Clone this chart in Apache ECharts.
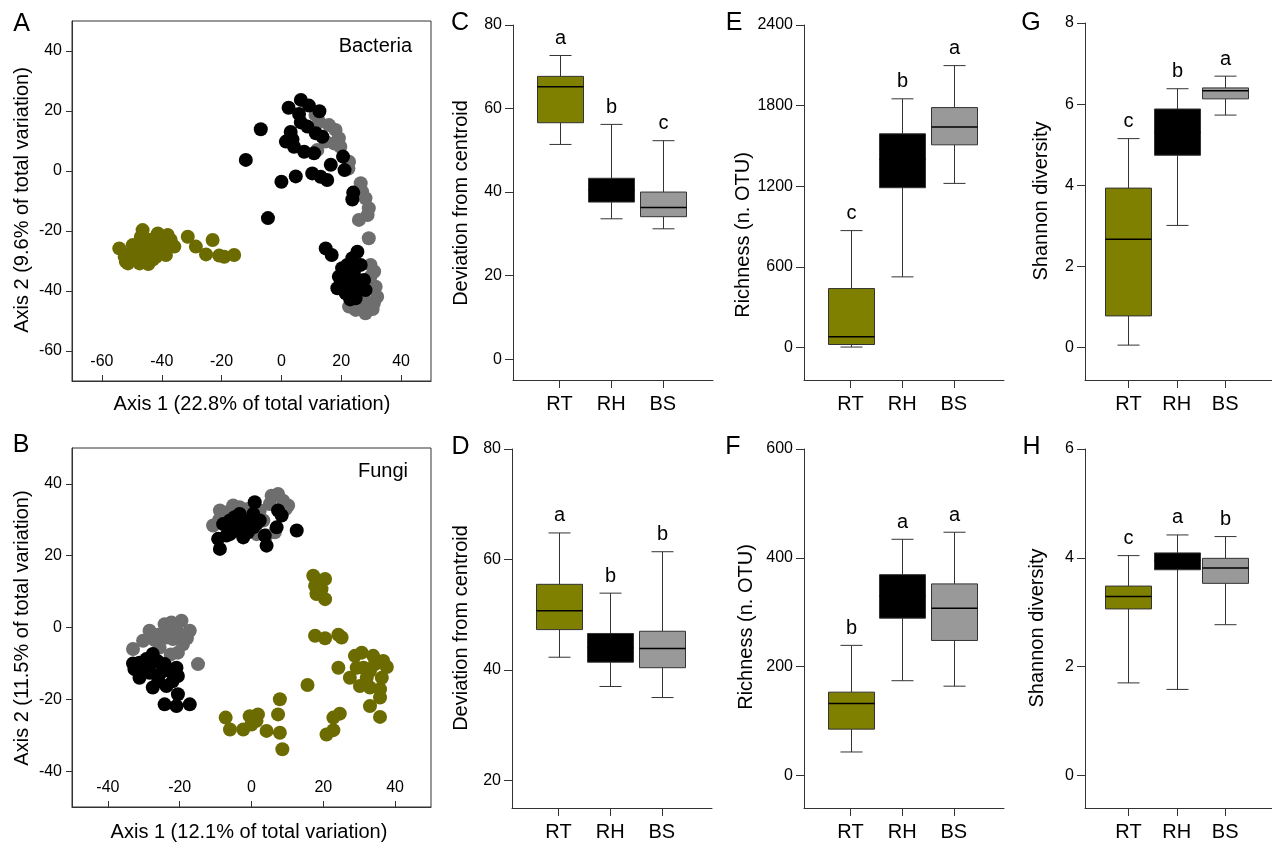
<!DOCTYPE html>
<html>
<head>
<meta charset="utf-8">
<script src="https://cdn.jsdelivr.net/npm/echarts@6.0.0/dist/echarts.min.js"></script>
<style>
html,body{margin:0;padding:0;background:#fff;}
#chart{width:1272px;height:844px;}
</style>
</head>
<body>
<div id="chart"></div>
<script>
// ---------------- DATA ----------------
const groups = ['RT', 'RH', 'BS'];

// Panel A – Bacteria PCoA (Axis 1, Axis 2)
const bacRT = [[-54.2,-25.8],[-52.0,-30.2],[-51.3,-30.8],[-49.7,-28.6],[-49.7,-24.7],[-48.6,-26.3],[-47.4,-25.2],[-47.4,-30.8],[-46.4,-19.7],[-46.3,-23.0],[-46.3,-27.4],[-45.2,-29.7],[-44.1,-23.0],[-43.6,-25.8],[-43.3,-27.4],[-41.9,-21.9],[-41.3,-20.8],[-41.9,-28.6],[-40.8,-25.2],[-38.6,-24.1],[-38.0,-21.3],[-38.6,-28.0],[-35.8,-25.2],[-31.3,-21.9],[-28.6,-25.2],[-25.2,-27.8],[-23.0,-23.0],[-20.8,-28.2],[-19.1,-28.6],[-15.8,-28.0],[-52.4,-28.6],[-44.5,-31.0],[-48.0,-28.0],[-45.0,-26.5],[-42.5,-24.0],[-40.0,-23.0],[-50.5,-27.5],[-47.0,-22.0],[-43.0,-29.5],[-39.5,-26.5],[-37.0,-23.0]];
const bacRH = [[-11.9,3.7],[-6.9,13.9],[-4.5,-15.7],[0.0,-3.6],[4.8,-1.8],[2.4,21.1],[6.5,23.7],[9.2,21.8],[12.7,19.9],[3.1,13.0],[1.5,9.8],[4.2,8.1],[7.6,6.4],[10.9,5.9],[6.5,16.2],[8.7,14.8],[11.5,12.6],[13.7,11.4],[5.9,19.0],[3.7,10.5],[10.3,-0.8],[13.1,-1.9],[15.3,-3.0],[16.5,2.1],[20.6,4.8],[21.1,0.3],[24.0,-7.2],[23.7,-9.5],[14.8,-25.8],[16.8,-28.0],[25.4,-26.9],[23.7,-29.1],[20.3,-32.4],[19.2,-35.2],[18.7,-39.1],[21.5,-40.8],[24.8,-42.4],[28.1,-39.7],[27.6,-36.3],[24.2,-34.1],[22.6,-37.4],[25.4,-37.4],[22.0,-31.3],[26.5,-31.3],[23.0,-42.8],[20.5,-38.0],[21.0,-36.0],[23.5,-39.0],[26.5,-39.0],[19.8,-37.5]];
const bacBS = [[12.6,16.4],[15.9,15.3],[18.1,13.7],[19.2,10.9],[17.6,9.2],[14.8,9.8],[11.4,18.7],[22.6,3.1],[22.4,0.8],[26.5,-4.1],[27.0,-6.9],[28.1,-9.1],[29.2,-12.4],[28.8,-14.7],[25.9,-16.3],[29.2,-22.4],[29.8,-31.3],[31.5,-38.6],[30.9,-44.1],[28.1,-47.4],[24.8,-46.3],[22.6,-45.2],[32.0,-41.9],[29.8,-35.2],[26.5,-44.5],[30.5,-46.0],[12.0,7.0],[19.7,8.1],[27.5,-42.5],[31.0,-33.5]];

// Panel B – Fungi PCoA
const funRT = [[17.2,14.4],[20.5,13.5],[17.7,11.6],[18.1,9.3],[20.5,7.9],[19.5,10.7],[17.7,-2.3],[20.5,-3.0],[24.2,-2.0],[25.1,-2.8],[24.2,-11.2],[15.6,-16.0],[28.8,-7.9],[30.7,-7.0],[33.9,-7.9],[36.7,-9.3],[37.7,-11.0],[27.4,-14.0],[30.2,-16.3],[33.0,-16.7],[35.8,-17.2],[36.3,-14.0],[35.8,-19.5],[33.0,-21.9],[35.8,-24.9],[31.2,-11.2],[33.0,-12.1],[29.3,-11.2],[32.1,-14.0],[34.4,-10.2],[24.6,-24.0],[22.8,-25.1],[22.8,-28.6],[20.9,-29.8],[7.9,-20.0],[7.4,-24.2],[7.9,-29.3],[8.6,-33.9],[4.2,-28.8],[1.8,-24.2],[-0.5,-24.7],[0.0,-27.0],[-2.3,-28.4],[-6.0,-28.4],[-7.2,-25.1],[1.4,-26.0]];
const funRH = [[0.9,34.9],[-8.8,21.9],[-9.3,24.7],[-7.9,28.8],[-6.0,29.8],[-4.2,27.0],[-2.3,29.3],[-3.3,31.6],[-0.5,29.8],[0.5,27.9],[2.3,29.8],[3.7,25.6],[4.2,22.8],[-2.3,25.1],[-6.0,26.0],[7.4,32.6],[8.4,31.2],[7.0,27.9],[12.6,27.0],[-7.0,25.6],[0.5,31.6],[-4.7,30.7],[-5.0,28.0],[-1.0,26.5],[1.5,29.0],[-3.5,27.5],[-31.2,-9.8],[-32.6,-11.6],[-27.5,-7.4],[-24.2,-10.2],[-20.9,-11.2],[-20.5,-13.5],[-31.2,-14.0],[-27.5,-16.7],[-23.7,-16.3],[-20.5,-18.6],[-24.2,-21.4],[-20.9,-21.9],[-17.2,-21.4],[-28.4,-12.6],[-25.6,-13.0],[-29.3,-8.8],[-26.0,-9.5],[-23.0,-12.0],[-30.0,-11.5],[-28.0,-10.0],[-26.0,-15.0],[-22.0,-15.0],[-33.0,-10.0]];
const funBS = [[-10.7,28.4],[-8.8,32.6],[-5.1,34.0],[-3.3,33.5],[-0.9,33.0],[5.6,36.7],[7.4,37.2],[8.8,35.3],[10.2,34.0],[5.1,34.4],[2.3,32.6],[4.2,25.6],[1.4,26.0],[6.5,26.5],[3.3,29.8],[-7.5,30.5],[-9.0,30.0],[-6.0,32.5],[-1.5,31.5],[9.5,33.0],[-28.4,-0.9],[-24.2,0.9],[-22.3,1.4],[-19.5,1.9],[-17.2,-0.9],[-20.0,-1.9],[-21.9,-3.2],[-23.7,-2.8],[-30.2,-3.7],[-33.0,-6.0],[-14.9,-10.2],[-20.5,-7.0],[-25.6,-5.6],[-19.1,-4.7],[-27.0,-3.5],[-22.5,-7.5],[-26.0,-2.0],[-23.0,-0.5],[-18.0,-3.0],[-21.0,0.2]];

// Box statistics [min, Q1, median, Q3, max] for RT, RH, BS
const devBac  = [[51.4,56.6,65.2,67.7,72.7],[33.6,37.6,40.5,43.3,56.2],[31.2,34.1,36.3,40.0,52.3]];
const richBac = [[5,24,82,440,871],[527,1190,1400,1591,1851],[1222,1509,1641,1786,2098]];
const shanBac = [[0.06,0.78,2.67,3.93,5.15],[3.01,4.74,5.3,5.88,6.38],[5.73,6.13,6.33,6.40,6.69]];
const devFun  = [[42.3,47.3,50.7,55.5,64.8],[37.0,41.4,44.0,46.6,53.9],[35.0,40.4,43.9,47.0,61.4]];
const richFun = [[43,85,132,153,239],[174,289,330,369,434],[164,248,307,352,447]];
const shanFun = [[1.70,3.06,3.29,3.48,4.04],[1.58,3.78,3.95,4.09,4.42],[2.77,3.53,3.81,3.99,4.39]];

// Significance letters
const letDevBac  = ['a','b','c'];
const letRichBac = ['c','b','a'];
const letShanBac = ['c','b','a'];
const letDevFun  = ['a','b','b'];
const letRichFun = ['b','a','a'];
const letShanFun = ['c','a','b'];

// Tick labels
const ticksA = [-60,-40,-20,0,20,40];
const ticksB = [-40,-20,0,20,40];
const ticksDevBac = [0,20,40,60,80];
const ticksRichBac = [0,600,1200,1800,2400];
const ticksShanBac = [0,2,4,6,8];
const ticksDevFun = [20,40,60,80];
const ticksRichFun = [0,200,400,600];
const ticksShanFun = [0,2,4,6];
const catTicks = [1,2,3];

// ---------------- STYLE ----------------
const FF = 'Liberation Sans, Arial, Helvetica, sans-serif';
const AX = '#333';
const scatterCol = {RT:'#6b6b00', RH:'#000000', BS:'#6e6e6e'};
const boxCol = ['#808000', '#000000', '#999999'];
const plain = v => String(v);

const chart = echarts.init(document.getElementById('chart'), null, {renderer:'canvas'});

const grids = [
  {left:72, top:21, width:359, height:360, show:true, borderColor:AX, borderWidth:1},   // A
  {left:72, top:448, width:359, height:359, show:true, borderColor:AX, borderWidth:1},  // B
  {left:513, top:25, width:200, height:355},   // C
  {left:512, top:449, width:200, height:359},  // D
  {left:804, top:25, width:200, height:355},   // E
  {left:804, top:449, width:200, height:359},  // F
  {left:1085, top:23, width:200, height:357},  // G
  {left:1085, top:449, width:200, height:359}  // H
];

function scatterX(gi, min, max, ticks){
  return {gridIndex:gi, type:'value', min, max,
    axisLine:{show:true, onZero:false, lineStyle:{color:AX, width:1}},
    axisTick:{show:true, inside:true, length:6, customValues:ticks, lineStyle:{color:AX}},
    axisLabel:{inside:true, margin:11, customValues:ticks, fontSize:16, color:'#000', fontFamily:FF, formatter:plain},
    splitLine:{show:false}};
}
function scatterY(gi, min, max, ticks){
  return {gridIndex:gi, type:'value', min, max,
    axisLine:{show:true, onZero:false, lineStyle:{color:AX, width:1}},
    axisTick:{show:true, inside:false, length:6, customValues:ticks, lineStyle:{color:AX}},
    axisLabel:{margin:10, customValues:ticks, fontSize:16, color:'#000', fontFamily:FF, formatter:plain},
    splitLine:{show:false}};
}
function boxX(gi){
  return {gridIndex:gi, type:'value', min:0.1, max:3.97,
    axisLine:{show:true, onZero:false, lineStyle:{color:AX, width:1}},
    axisTick:{show:true, length:8, customValues:catTicks, lineStyle:{color:AX}},
    axisLabel:{margin:14, customValues:catTicks, fontSize:20, color:'#000', fontFamily:FF,
      formatter:v=>groups[Math.round(v)-1]},
    splitLine:{show:false}};
}
function boxY(gi, min, max, ticks){
  return {gridIndex:gi, type:'value', min, max,
    axisLine:{show:true, onZero:false, lineStyle:{color:AX, width:1}},
    axisTick:{show:true, length:8, customValues:ticks, lineStyle:{color:AX}},
    axisLabel:{margin:11, customValues:ticks, fontSize:16, color:'#000', fontFamily:FF, formatter:plain},
    splitLine:{show:false}};
}

function scatterSeries(gi, data, color, name){
  return {type:'scatter', name, xAxisIndex:gi, yAxisIndex:gi, data,
    symbol:'circle', symbolSize:14, itemStyle:{color, opacity:1}, silent:true};
}

function boxSeries(gi, stats, letters){
  return {
    type:'custom', xAxisIndex:gi, yAxisIndex:gi,
    data: stats.map((s,i)=>[i+1].concat(s)),
    encode:{x:0, y:[1,2,3,4,5]},
    silent:true,
    renderItem:(params, api)=>{
      const x = api.value(0);
      const c = k => api.coord([x, api.value(k)]);
      const pMin=c(1), pQ1=c(2), pMed=c(3), pQ3=c(4), pMax=c(5);
      const cx = Math.round(pMin[0]) + 0.5;
      const hw = 23, hc = 11;
      const ls = {stroke:'#333', lineWidth:1};
      return {type:'group', children:[
        {type:'line', shape:{x1:cx, y1:pQ3[1], x2:cx, y2:pMax[1]}, style:ls},
        {type:'line', shape:{x1:cx-hc, y1:pMax[1], x2:cx+hc, y2:pMax[1]}, style:ls},
        {type:'line', shape:{x1:cx, y1:pQ1[1], x2:cx, y2:pMin[1]}, style:ls},
        {type:'line', shape:{x1:cx-hc, y1:pMin[1], x2:cx+hc, y2:pMin[1]}, style:ls},
        {type:'rect', shape:{x:cx-hw, y:pQ3[1], width:2*hw, height:pQ1[1]-pQ3[1]},
          style:{fill:boxCol[params.dataIndex], stroke:'#333', lineWidth:1}},
        {type:'line', shape:{x1:cx-hw, y1:pMed[1], x2:cx+hw, y2:pMed[1]}, style:{stroke:'#000', lineWidth:1.5}},
        {type:'text', x:cx, y:pMax[1]-17, style:{text:letters[params.dataIndex], fontSize:20, fontFamily:FF,
          fill:'#000', align:'center', verticalAlign:'middle', textAlign:'center', textVerticalAlign:'middle'}}
      ]};
    }
  };
}

function txt(text, x, y, size, opts){
  opts = opts || {};
  return {type:'text', x, y, rotation: opts.rot || 0, silent:true,
    style:{text, fill:'#000', font: size+'px '+FF,
      textAlign: opts.align || 'center', textVerticalAlign:'middle',
      align: opts.align || 'center', verticalAlign:'middle'}};
}
const R = Math.PI/2;

const option = {
  animation:false,
  backgroundColor:'#fff',
  grid: grids,
  xAxis:[
    scatterX(0,-70,50,ticksA),
    scatterX(1,-50,50,ticksB),
    boxX(2), boxX(3), boxX(4), boxX(5), boxX(6), boxX(7)
  ],
  yAxis:[
    scatterY(0,-70,50,ticksA),
    scatterY(1,-50,50,ticksB),
    boxY(2,-5,80,ticksDevBac),
    boxY(3,15,80,ticksDevFun),
    boxY(4,-240,2400,ticksRichBac),
    boxY(5,-60,600,ticksRichFun),
    boxY(6,-0.8,8,ticksShanBac),
    boxY(7,-0.6,6,ticksShanFun)
  ],
  series:[
    scatterSeries(0, bacRT, scatterCol.RT, 'RT'),
    scatterSeries(0, bacBS, scatterCol.BS, 'BS'),
    scatterSeries(0, bacRH, scatterCol.RH, 'RH'),
    scatterSeries(1, funRT, scatterCol.RT, 'RT'),
    scatterSeries(1, funBS, scatterCol.BS, 'BS'),
    scatterSeries(1, funRH, scatterCol.RH, 'RH'),
    boxSeries(2, devBac, letDevBac),
    boxSeries(3, devFun, letDevFun),
    boxSeries(4, richBac, letRichBac),
    boxSeries(5, richFun, letRichFun),
    boxSeries(6, shanBac, letShanBac),
    boxSeries(7, shanFun, letShanFun)
  ],
  graphic:[
    txt('A', 21.5, 24, 25), txt('B', 21, 445, 25),
    txt('C', 460, 23, 25), txt('D', 460.5, 447, 25),
    txt('E', 734, 23, 25), txt('F', 733, 447, 25),
    txt('G', 1031, 23, 25), txt('H', 1031.5, 447, 25),
    txt('Bacteria', 412, 46.5, 20, {align:'right'}),
    txt('Fungi', 408, 471.5, 20, {align:'right'}),
    txt('Axis 2 (9.6% of total variation)', 22.5, 200, 20, {rot:R}),
    txt('Axis 1 (22.8% of total variation)', 252, 404, 20),
    txt('Axis 2 (11.5% of total variation)', 22.5, 628, 20, {rot:R}),
    txt('Axis 1 (12.1% of total variation)', 249, 832, 20),
    txt('Deviation from centroid', 461, 203, 20, {rot:R}),
    txt('Deviation from centroid', 461, 628, 20, {rot:R}),
    txt('Richness (n. OTU)', 743, 235, 20, {rot:R}),
    txt('Richness (n. OTU)', 746, 627, 20, {rot:R}),
    txt('Shannon diversity', 1041, 201, 20, {rot:R}),
    txt('Shannon diversity', 1037, 628, 20, {rot:R})
  ]
};
chart.setOption(option);
</script>
</body>
</html>
